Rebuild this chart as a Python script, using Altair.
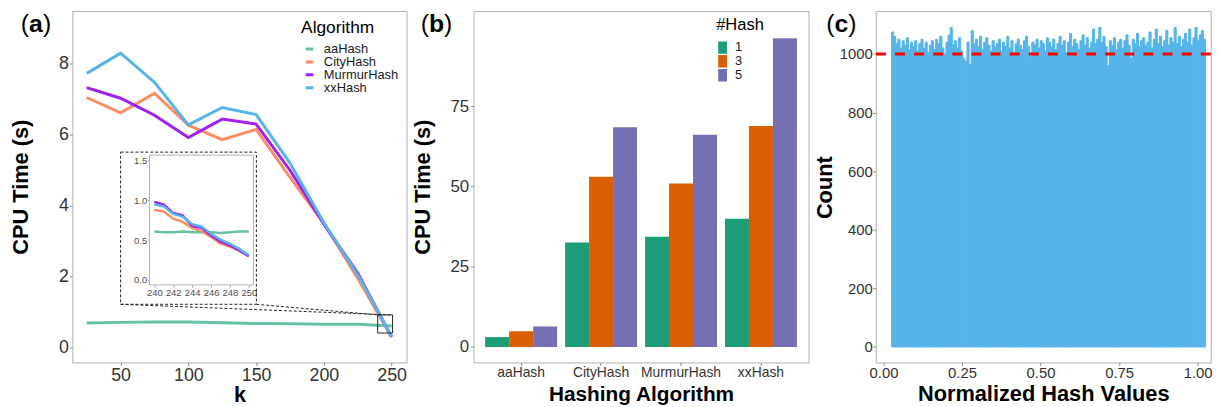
import altair as alt
import pandas as pd
import numpy as np

FONT = "Liberation Sans"

# ---------------- panel (a) data ----------------
algorithms = ["aaHash", "CityHash", "MurmurHash", "xxHash"]
algo_colors = ["#66C2A5", "#FC8D62", "#A020F0", "#56B4E9"]

k_values = [25, 50, 75, 100, 125, 150, 175, 200, 225, 250]
cpu_aahash = [0.69, 0.71, 0.72, 0.72, 0.70, 0.68, 0.67, 0.66, 0.66, 0.61]
cpu_cityhash = [7.05, 6.62, 7.17, 6.27, 5.86, 6.15, 4.80, 3.50, 1.95, 0.30]
cpu_murmurhash = [7.33, 7.03, 6.55, 5.92, 6.44, 6.30, 5.00, 3.48, 2.10, 0.30]
cpu_xxhash = [7.73, 8.30, 7.48, 6.28, 6.77, 6.57, 5.20, 3.52, 2.05, 0.32]

k_zoom = [240, 241, 242, 243, 244, 245, 246, 247, 248, 249, 250]
zoom_aahash = [0.61, 0.60, 0.60, 0.61, 0.60, 0.60, 0.60, 0.59, 0.60, 0.61, 0.61]
zoom_cityhash = [0.88, 0.86, 0.77, 0.73, 0.655, 0.61, 0.54, 0.455, 0.42, 0.365, 0.30]
zoom_murmurhash = [0.98, 0.945, 0.84, 0.81, 0.68, 0.655, 0.56, 0.48, 0.435, 0.37, 0.30]
zoom_xxhash = [0.95, 0.925, 0.83, 0.795, 0.70, 0.67, 0.58, 0.505, 0.455, 0.39, 0.31]

main_k_domain = [14.4, 261.0]
main_cpu_domain = [-0.42, 9.49]
inset_k_domain = [239.5, 250.5]
inset_cpu_domain = [-0.062, 1.566]

zoom_box_k = [239.7, 250.7]
zoom_box_cpu = [0.41, 0.92]
inset_box_k = [50.0, 150.2]
inset_box_cpu = [1.22, 5.51]

# ---------------- panel (b) data ----------------
hash_counts = ["1", "3", "5"]
hash_colors = ["#1B9E77", "#D95F02", "#7570B3"]
time_1hash = [3.1, 32.5, 34.3, 39.9]
time_3hash = [4.9, 53.0, 50.9, 68.8]
time_5hash = [6.4, 68.4, 66.1, 96.1]

# ---------------- panel (c) data ----------------
hist_range = [0.026, 1.025]
hist_counts = [
    1075, 1060, 1035, 1050, 1020, 1045, 1030, 1055, 1015, 1040,
    1025, 1045, 1010, 1035, 1050, 1020, 1040, 1005, 1030, 1045,
    1015, 1050, 1035, 1060, 1020, 1000, 1040, 1065, 1090, 1030,
    1045, 1020, 1055, 1010, 985, 975, 1040, 965, 1080, 1035,
    1050, 1025, 1060, 1015, 1040, 1055, 1030, 1010, 1045, 1025,
    1035, 1050, 1010, 1040, 1025, 1060, 1020, 1045, 1005, 1035,
    1050, 1030, 1015, 1045, 1060, 1025, 990, 1040, 1030, 1050,
    1020, 1045, 1035, 1010, 1055, 1040, 1025, 1050, 1015, 1035,
    1060, 1030, 1045, 1005, 1040, 1070, 1025, 1050, 1035, 1015,
    1045, 1065, 1030, 1055, 1020, 1040, 1085, 1035, 1050, 1090,
    1040, 1060, 1025, 960, 1045, 1030, 1055, 1015, 1040, 1050,
    1020, 1045, 1065, 1030, 985, 1050, 1035, 1070, 1025, 1045,
    1055, 1030, 1040, 1075, 1020, 1050, 1085, 1035, 1060, 1025,
    1045, 1080, 1030, 1055, 1040, 1090, 1035, 1060, 1025, 1050,
    1070, 1040, 1085, 1030, 1055, 1090, 1045, 1065, 1080, 1050,
]

# ---------------- tables ----------------
main_series = [cpu_aahash, cpu_cityhash, cpu_murmurhash, cpu_xxhash]
zoom_series = [zoom_aahash, zoom_cityhash, zoom_murmurhash, zoom_xxhash]
df_main = pd.DataFrame([
    {"Algorithm": a, "k": k, "cpu": v}
    for a, s in zip(algorithms, main_series) for k, v in zip(k_values, s)
])
df_zoom = pd.DataFrame([
    {"Algorithm": a, "k": k, "cpu": v}
    for a, s in zip(algorithms, zoom_series) for k, v in zip(k_zoom, s)
])
df_dash_box = pd.DataFrame({"k": [inset_box_k[0]], "k2": [inset_box_k[1]],
                            "cpu": [inset_box_cpu[0]], "cpu2": [inset_box_cpu[1]]})
df_zoom_box = pd.DataFrame({"k": [zoom_box_k[0]], "k2": [zoom_box_k[1]],
                            "cpu": [zoom_box_cpu[0]], "cpu2": [zoom_box_cpu[1]]})
df_connect = pd.DataFrame({"k": [inset_box_k[1], inset_box_k[0]],
                           "cpu": [inset_box_cpu[0], inset_box_cpu[0]],
                           "k2": [zoom_box_k[0], zoom_box_k[1]],
                           "cpu2": [zoom_box_cpu[1], zoom_box_cpu[1]]})
df_inset_frame = pd.DataFrame({"k": [inset_k_domain[0]], "k2": [inset_k_domain[1]],
                               "cpu": [inset_cpu_domain[0]], "cpu2": [inset_cpu_domain[1]]})

df_b = pd.DataFrame([
    {"Algo": a, "Hash": h, "time": v}
    for h, s in zip(hash_counts, [time_1hash, time_3hash, time_5hash])
    for a, v in zip(algorithms, s)
])

edges = np.linspace(hist_range[0], hist_range[1], len(hist_counts) + 1)
df_c = pd.DataFrame({"lo": edges[:-1], "hi": edges[1:], "count": hist_counts,
                     "base": [0] * len(hist_counts)})
df_ref = pd.DataFrame({"count": [1000]})


def panel_label(letter, x_left, size=25, letter_w=0.556):
    parts = [("(", "normal", x_left),
             (letter, "bold", x_left + 0.333 * size),
             (")", "normal", x_left + (0.333 + letter_w) * size)]
    out = []
    for t, w, x in parts:
        out.append(
            alt.Chart(pd.DataFrame({"t": [t]}))
            .mark_text(font=FONT, fontSize=size, fontWeight=w, align="left",
                       baseline="alphabetic", color="black")
            .encode(text="t:N", x=alt.value(x), y=alt.value(21.7))
        )
    return out


# ---------------- panel (a) ----------------
W, H = 337.5, 355
xs_main = alt.Scale(domain=main_k_domain, nice=False, zero=False)
ys_main = alt.Scale(domain=main_cpu_domain, nice=False, zero=False)
ax_main_x = alt.Axis(values=[50, 100, 150, 200, 250], title="k", labelFontSize=18,
                     titleFontSize=22, titleY=39, titleBaseline="alphabetic", labelPadding=1)
ax_main_y = alt.Axis(values=[0, 2, 4, 6, 8], title="CPU Time (s)", labelFontSize=18,
                     titleFontSize=22, titleX=-52, titleY=177.5, titleAngle=270,
                     titleBaseline="middle", labelPadding=1)
color_a = alt.Scale(domain=algorithms, range=algo_colors)
legend_a = alt.Legend(title="Algorithm", orient="none", legendX=231, legendY=8.5,
                      symbolType="stroke", symbolSize=60, symbolStrokeWidth=3,
                      labelFontSize=13, titleFontSize=17.5, titleFontWeight="normal",
                      titlePadding=7, rowPadding=-1.5, clipHeight=11, labelOffset=8,
                      symbolOffset=2, padding=0, labelColor="#1a1a1a", titleColor="black")


def mx(field="k"):
    return alt.X(f"{field}:Q", scale=xs_main, axis=ax_main_x, title="k")


def my(field="cpu"):
    return alt.Y(f"{field}:Q", scale=ys_main, axis=ax_main_y, title="CPU Time (s)")


main_lines = alt.Chart(df_main).mark_line(strokeWidth=3).encode(
    x=mx(), y=my(),
    color=alt.Color("Algorithm:N", scale=color_a, legend=legend_a, sort=algorithms),
)
dash_box = alt.Chart(df_dash_box).mark_rect(fillOpacity=0, stroke="#222222",
                                            strokeWidth=1, strokeDash=[3, 2]).encode(
    x=mx(), x2="k2:Q", y=my(), y2="cpu2:Q")
connect = alt.Chart(df_connect).mark_rule(stroke="#222222", strokeWidth=1,
                                          strokeDash=[3, 2]).encode(
    x=mx(), x2="k2:Q", y=my(), y2="cpu2:Q")
zoom_box = alt.Chart(df_zoom_box).mark_rect(fillOpacity=0, stroke="#222222",
                                            strokeWidth=1).encode(
    x=mx(), x2="k2:Q", y=my(), y2="cpu2:Q")

main_group = alt.layer(main_lines, dash_box, connect, zoom_box, *panel_label("a", -52))

xs_in = alt.Scale(domain=inset_k_domain, range=[78, 183], nice=False, zero=False)
ys_in = alt.Scale(domain=inset_cpu_domain, range=[276.7, 145.7], nice=False, zero=False)
ax_in_x = alt.Axis(values=[240, 242, 244, 246, 248, 250], title=None, orient="bottom",
                   offset=-78.3, labelFontSize=9.5, tickSize=2, labelPadding=1,
                   labelColor="#4D4D4D")
ax_in_y = alt.Axis(values=[0, 0.5, 1.0, 1.5], format=".1f", title=None, orient="left",
                   offset=-78, labelFontSize=9.5, tickSize=2, labelPadding=1,
                   labelColor="#4D4D4D")
inset_frame = alt.Chart(df_inset_frame).mark_rect(fill="white", stroke="#B0B0B0",
                                                  strokeWidth=1).encode(
    x=alt.X("k:Q", scale=xs_in, axis=ax_in_x, title=None), x2="k2:Q",
    y=alt.Y("cpu:Q", scale=ys_in, axis=ax_in_y, title=None), y2="cpu2:Q")
inset_lines = alt.Chart(df_zoom).mark_line(strokeWidth=2.5).encode(
    x=alt.X("k:Q", scale=xs_in, axis=ax_in_x, title=None),
    y=alt.Y("cpu:Q", scale=ys_in, axis=ax_in_y, title=None),
    color=alt.Color("Algorithm:N", scale=color_a, legend=legend_a, sort=algorithms),
)
inset_group = alt.layer(inset_frame, inset_lines)

panel_a = alt.layer(main_group, inset_group).resolve_scale(
    x="independent", y="independent").properties(width=W, height=H)

# ---------------- panel (b) ----------------
legend_b = alt.Legend(title="#Hash", orient="none", legendX=245, legendY=5.8,
                      symbolType="M-0.7,-1H0.7V1H-0.7Z", symbolSize=161,
                      symbolStrokeWidth=0, labelFontSize=13, titleFontSize=16.7,
                      titleFontWeight="normal", titlePadding=8, rowPadding=-2.5,
                      clipHeight=12.7, labelOffset=6, padding=0,
                      labelColor="#1a1a1a", titleColor="black")
bars = alt.Chart(df_b).mark_bar().encode(
    x=alt.X("Algo:N", sort=algorithms,
            scale=alt.Scale(paddingInner=0.1, paddingOuter=0.145),
            axis=alt.Axis(title="Hashing Algorithm", labelFontSize=14, labelAngle=0,
                          titleFontSize=21, titleY=38.5, titleBaseline="alphabetic",
                          labelPadding=0)),
    xOffset=alt.XOffset("Hash:N", sort=hash_counts),
    y=alt.Y("time:Q", scale=alt.Scale(domain=[-4.8, 104.6], nice=False, zero=False),
            axis=alt.Axis(values=[0, 25, 50, 75], title="CPU Time (s)", labelFontSize=17,
                          titleFontSize=22, titleX=-51, titleY=177.5, titleAngle=270,
                          titleBaseline="middle", labelPadding=2)),
    color=alt.Color("Hash:N", sort=hash_counts,
                    scale=alt.Scale(domain=hash_counts, range=hash_colors), legend=legend_b),
)
panel_b = alt.layer(bars, *panel_label("b", -53.4, letter_w=0.611)).properties(width=338.3, height=H)

# ---------------- panel (c) ----------------
xs_c = alt.Scale(domain=[-0.0246, 1.0417], nice=False, zero=False)
ys_c = alt.Scale(domain=[-52.7, 1146.6], nice=False, zero=False)
ax_c_y = alt.Axis(values=[0, 200, 400, 600, 800, 1000], format="d", title="Count",
                  labelFontSize=15, titleFontSize=22, titleX=-51.7, titleY=178,
                  titleAngle=270, titleBaseline="middle", labelPadding=0.5)
hist = alt.Chart(df_c).mark_rect(color="#56B4E9", stroke="#56B4E9", strokeWidth=1).encode(
    x=alt.X("lo:Q", scale=xs_c,
            axis=alt.Axis(values=[0, 0.25, 0.5, 0.75, 1.0], format=".2f",
                          title="Normalized Hash Values", labelFontSize=15, titleFontSize=22,
                          titleY=38.5, titleBaseline="alphabetic", labelPadding=0.5)),
    x2="hi:Q",
    y=alt.Y("count:Q", scale=ys_c, axis=ax_c_y, title="Count"),
    y2="base:Q",
)
ref_line = alt.Chart(df_ref).mark_rule(color="#FF0000", strokeWidth=3,
                                       strokeDash=[10, 9.3]).encode(
    y=alt.Y("count:Q", scale=ys_c, axis=ax_c_y, title="Count"))
panel_c = alt.layer(hist, ref_line, *panel_label("c", -50)).properties(width=338.3, height=H)

chart = (
    alt.hconcat(panel_a, panel_b, panel_c, spacing=67.2, bounds="flush")
    .resolve_scale(color="independent")
    .properties(padding={"left": 1, "top": 0, "right": 0, "bottom": 0}, background="white")
    .configure_view(stroke="#B0B0B0", strokeWidth=1)
    .configure_axis(domain=False, grid=False, tickColor="#8C8C8C", tickSize=3,
                    labelColor="#333333", labelFont=FONT, titleFont=FONT,
                    titleFontWeight="bold", titleColor="#000000", labelFlush=False)
    .configure_legend(labelFont=FONT, titleFont=FONT)
)

chart.save("out.html", embed_options={"renderer": "svg", "actions": False})
